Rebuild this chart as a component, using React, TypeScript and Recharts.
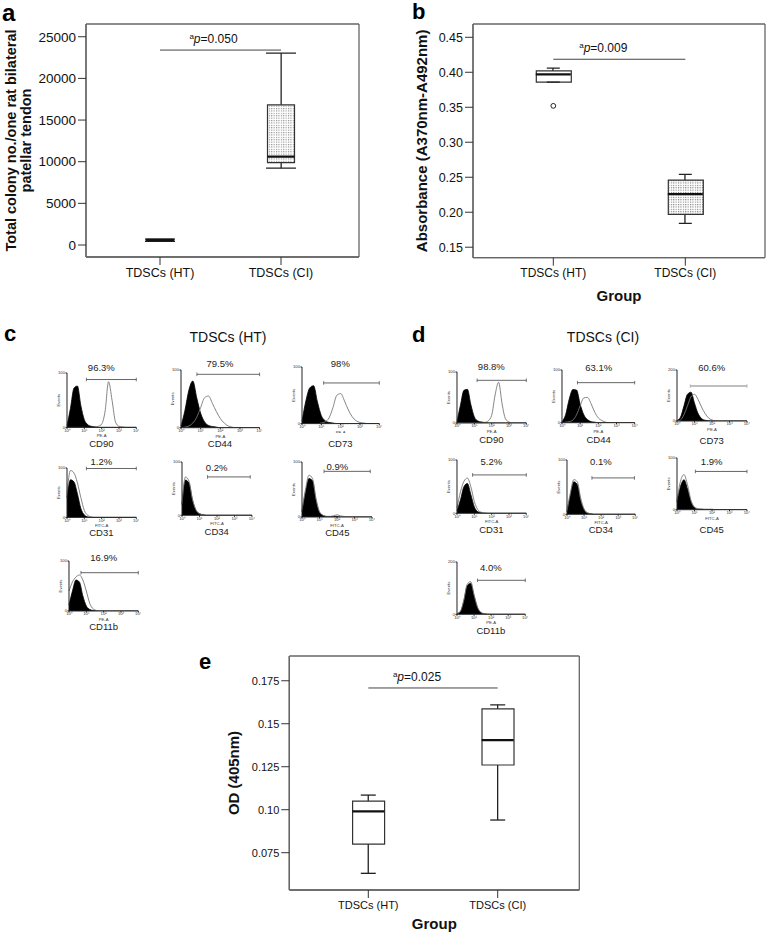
import React from "react";
import {
  AreaChart,
  Area,
  Bar,
  Cell,
  CartesianGrid,
  ComposedChart,
  ReferenceLine,
  Scatter,
  XAxis,
  YAxis,
} from "recharts";

const FONT = '"Liberation Sans", Arial, Helvetica, sans-serif';

// ---------- box plots ----------
const groups = ["TDSCs (HT)", "TDSCs (CI)"];

// (a) total colony number
const colonyMin = [450, 9220];
const colonyQ1 = [450, 9890];
const colonyMedian = [580, 10610];
const colonyQ3 = [700, 16830];
const colonyMax = [700, 23040];
const colonyTicks = [0, 5000, 10000, 15000, 20000, 25000];

// (b) absorbance
const absMin = [0.386, 0.184];
const absQ1 = [0.386, 0.197];
const absMedian = [0.397, 0.226];
const absQ3 = [0.402, 0.246];
const absMax = [0.406, 0.254];
const absOutlier = [0.352, null]; // HT only
const absTicks = [0.15, 0.2, 0.25, 0.3, 0.35, 0.4, 0.45];

// (e) OD 405nm
const odMin = [0.063, 0.094];
const odQ1 = [0.08, 0.126];
const odMedian = [0.099, 0.1405];
const odQ3 = [0.105, 0.1587];
const odMax = [0.1085, 0.161];
const odTicks = [0.075, 0.1, 0.125, 0.15, 0.175];
const odTickLabels = ["0.075", "0.10", "0.125", "0.15", "0.175"];

// significance
const sigLevels = [23400, 0.4186, 0.1708];
const pValues = ["0.050", "0.009", "0.025"];

// ---------- flow cytometry histograms ----------
const bins = [0, 0.2, 0.4, 0.6, 0.8, 1, 1.2, 1.4, 1.6, 1.8, 2, 2.2, 2.4, 2.6, 2.8, 3, 3.2, 3.4, 3.6, 3.8, 4];
const decades = [0, 1, 2, 3, 4];
const decadeLabels = ["10\u2070", "10\u00b9", "10\u00b2", "10\u00b3", "10\u2074"];

const markers = ["CD90", "CD44", "CD73", "CD31", "CD34", "CD45", "CD11b"];
const channels = ["PE-A", "PE-A", "PE-A", "FITC-A", "FITC-A", "FITC-A", "PE-A"];

const htPercent = ["96.3%", "79.5%", "98%", "1.2%", "0.2%", "0.9%", "16.9%"];
const ciPercent = ["98.8%", "63.1%", "60.6%", "5.2%", "0.1%", "1.9%", "4.0%"];
const htEventsMax = [100, 100, 100, 100, 100, 100, 100];
const ciEventsMax = [100, 100, 200, 100, 100, 100, 200];
const htGateFrom = [1.12, 0.81, 1.12, 1.12, 1.46, 1.26, 0.69];
const htGateTo = [4, 4, 4, 4, 3.9, 3.9, 4];
const htGateLevel = [88, 92.5, 71.8, 99, 72, 83, 76.6];
const ciGateFrom = [1.16, 0.85, 0.76, 0.9, 1.46, 1.05, 1.2];
const ciGateTo = [4, 4, 4, 4, 3.95, 4, 4];
const ciGateLevel = [83.7, 76, 137, 72, 67, 74, 130];

// isotype control (filled) and stained sample (outline), HT
const htCD90Ctl = [3, 35, 72, 76, 40, 14, 5, 2, 1, 0, 0, 0, 0, 0, 0, 0, 0, 0, 0, 0, 0];
const htCD90Smp = [0, 0, 0, 0, 0, 0, 0, 0, 1, 2, 6, 30, 84, 50, 10, 2, 1, 0, 0, 0, 0];
const htCD44Ctl = [3, 30, 65, 81, 52, 25, 10, 4, 2, 1, 0, 0, 0, 0, 0, 0, 0, 0, 0, 0, 0];
const htCD44Smp = [0, 1, 3, 8, 18, 35, 52, 55, 42, 28, 16, 8, 3, 1, 0, 0, 0, 0, 0, 0, 0];
const htCD73Ctl = [4, 40, 63, 67, 38, 14, 5, 2, 1, 0, 0, 0, 0, 0, 0, 0, 0, 0, 0, 0, 0];
const htCD73Smp = [0, 0, 0, 0, 0, 1, 3, 10, 28, 50, 53, 40, 24, 12, 5, 2, 1, 0, 0, 0, 0];
const htCD31Ctl = [40, 76, 72, 48, 18, 5, 1, 0, 0, 0, 0, 0, 0, 0, 0, 0, 0, 0, 0, 0, 0];
const htCD31Smp = [48, 95, 90, 70, 40, 14, 4, 1, 0, 0, 0, 0, 0, 0, 0, 0, 0, 0, 0, 0, 0];
const htCD34Ctl = [20, 66, 60, 28, 9, 3, 1, 0, 0, 0, 0, 0, 0, 0, 0, 0, 0, 0, 0, 0, 0];
const htCD34Smp = [22, 72, 64, 30, 10, 3, 1, 0, 0, 0, 0, 0, 0, 0, 0, 0, 0, 0, 0, 0, 0];
const htCD45Ctl = [10, 45, 70, 66, 30, 8, 3, 1, 1, 1, 1, 0, 0, 0, 0, 0, 0, 0, 0, 0, 0];
const htCD45Smp = [12, 50, 76, 70, 34, 10, 3, 1, 1, 2, 4, 2, 1, 0, 0, 0, 0, 0, 0, 0, 0];
const htCD11bCtl = [12, 40, 62, 58, 30, 10, 3, 1, 0, 0, 0, 0, 0, 0, 0, 0, 0, 0, 0, 0, 0];
const htCD11bSmp = [40, 58, 68, 72, 62, 40, 15, 4, 1, 0, 0, 0, 0, 0, 0, 0, 0, 0, 0, 0, 0];

// CI
const ciCD90Ctl = [3, 35, 64, 66, 36, 12, 4, 2, 1, 0, 0, 0, 0, 0, 0, 0, 0, 0, 0, 0, 0];
const ciCD90Smp = [0, 0, 0, 0, 0, 0, 0, 0, 1, 4, 15, 55, 80, 38, 8, 2, 0, 0, 0, 0, 0];
const ciCD44Ctl = [2, 15, 45, 63, 62, 35, 15, 6, 2, 1, 0, 0, 0, 0, 0, 0, 0, 0, 0, 0, 0];
const ciCD44Smp = [0, 1, 2, 5, 15, 32, 47, 48, 36, 20, 9, 4, 1, 0, 0, 0, 0, 0, 0, 0, 0];
const ciCD73Ctl = [2, 15, 60, 105, 113, 70, 30, 10, 3, 1, 0, 0, 0, 0, 0, 0, 0, 0, 0, 0, 0];
const ciCD73Smp = [0, 4, 25, 60, 95, 105, 85, 55, 30, 12, 4, 1, 0, 0, 0, 0, 0, 0, 0, 0, 0];
const ciCD31Ctl = [5, 25, 50, 56, 35, 12, 3, 1, 0, 0, 0, 0, 0, 0, 0, 0, 0, 0, 0, 0, 0];
const ciCD31Smp = [10, 40, 60, 66, 50, 22, 7, 2, 1, 0, 0, 0, 0, 0, 0, 0, 0, 0, 0, 0, 0];
const ciCD34Ctl = [5, 35, 60, 55, 25, 8, 2, 1, 0, 0, 0, 0, 0, 0, 0, 0, 0, 0, 0, 0, 0];
const ciCD34Smp = [6, 40, 64, 60, 30, 10, 3, 1, 0, 0, 0, 0, 0, 0, 0, 0, 0, 0, 0, 0, 0];
const ciCD45Ctl = [15, 45, 58, 40, 15, 4, 1, 1, 0, 0, 0, 0, 0, 0, 0, 0, 0, 0, 0, 0, 0];
const ciCD45Smp = [18, 55, 68, 48, 18, 5, 2, 1, 1, 1, 1, 0, 0, 0, 0, 0, 0, 0, 0, 0, 0];
const ciCD11bCtl = [2, 10, 50, 110, 118, 70, 25, 6, 2, 0, 0, 0, 0, 0, 0, 0, 0, 0, 0, 0, 0];
const ciCD11bSmp = [3, 12, 55, 115, 125, 75, 28, 8, 2, 1, 0, 0, 0, 0, 0, 0, 0, 0, 0, 0, 0];

const htControl = [htCD90Ctl, htCD44Ctl, htCD73Ctl, htCD31Ctl, htCD34Ctl, htCD45Ctl, htCD11bCtl];
const htSample = [htCD90Smp, htCD44Smp, htCD73Smp, htCD31Smp, htCD34Smp, htCD45Smp, htCD11bSmp];
const ciControl = [ciCD90Ctl, ciCD44Ctl, ciCD73Ctl, ciCD31Ctl, ciCD34Ctl, ciCD45Ctl, ciCD11bCtl];
const ciSample = [ciCD90Smp, ciCD44Smp, ciCD73Smp, ciCD31Smp, ciCD34Smp, ciCD45Smp, ciCD11bSmp];

// plot-area placement of each small histogram (page px)
const htLayout = [
  { x: 66.7, y: 373.3, w: 69.3, h: 54.4, pctY: 368.3, nameY: 444 },
  { x: 180.7, y: 370, w: 78.6, h: 57.7, pctY: 364.3, nameY: 444 },
  { x: 301.7, y: 366.7, w: 77.3, h: 56.6, pctY: 364, nameY: 444 },
  { x: 66.7, y: 468.3, w: 69.3, h: 49.4, pctY: 461.7, nameY: 533 },
  { x: 181.7, y: 461.7, w: 70, h: 53.3, pctY: 467.7, nameY: 532 },
  { x: 302.3, y: 461.7, w: 70, h: 55, pctY: 466.7, nameY: 532.5 },
  { x: 69, y: 561, w: 69.3, h: 50, pctY: 557.7, nameY: 627 },
];
const ciLayout = [
  { x: 456.7, y: 371.7, w: 69.3, h: 51, pctY: 367.3, nameY: 440 },
  { x: 562.3, y: 370, w: 72.7, h: 52.7, pctY: 368, nameY: 440 },
  { x: 676.7, y: 370, w: 70, h: 51, pctY: 368, nameY: 441 },
  { x: 456.7, y: 460, w: 69.3, h: 53.3, pctY: 461.7, nameY: 530 },
  { x: 566.7, y: 460, w: 68.3, h: 54.3, pctY: 461.7, nameY: 530 },
  { x: 676.7, y: 458.3, w: 70, h: 51.7, pctY: 461.7, nameY: 530 },
  { x: 456.7, y: 561.7, w: 68.3, h: 52.3, pctY: 568.3, nameY: 630.5 },
];

// ---------- components ----------
const frameH = (p: any) => [p.offset.top, p.offset.top + p.offset.height];
const frameV = (p: any) => [p.offset.left, p.offset.left + p.offset.width];

const capShape = (w: number) => (p: any) =>
  p.cx == null ? <g /> : (
    <line x1={p.cx - w / 2} x2={p.cx + w / 2} y1={p.cy} y2={p.cy} stroke="#222" strokeWidth={1.3} />
  );

const medianShape = (w: number) => (p: any) =>
  p.cx == null ? <g /> : (
    <line x1={p.cx - w / 2} x2={p.cx + w / 2} y1={p.cy} y2={p.cy} stroke="#111" strokeWidth={2.2} />
  );

const outlierShape = (p: any) =>
  p.cx == null || !p.payload || p.payload.outlier == null ? (
    <g />
  ) : (
    <circle cx={p.cx} cy={p.cy} r={2.4} fill="#fff" stroke="#222" strokeWidth={1} />
  );

function BoxPanel(c: any) {
  const rows = groups.map((g, i) => ({
    g,
    whisker: [c.min[i], c.max[i]],
    box: [c.q1[i], c.q3[i]],
    median: c.median[i],
    low: c.min[i],
    high: c.max[i],
    outlier: c.outlier ? c.outlier[i] : null,
  }));
  const plotH = c.height - c.top - c.xHeight;
  const cy = c.top + plotH / 2;
  return (
    <div style={{ position: "absolute", left: c.left, top: c.pageTop }}>
      <ComposedChart
        width={c.width}
        height={c.height}
        data={rows}
        margin={{ top: c.top, right: c.right, left: 0, bottom: 0 }}
      >
        <defs>
          <pattern id={c.id + "dots"} width="2.4" height="2.4" patternUnits="userSpaceOnUse">
            <rect width="2.4" height="2.4" fill="#fff" />
            <rect width="1.1" height="1.1" fill={c.dotColor} />
          </pattern>
        </defs>
        <CartesianGrid
          stroke="#666"
          strokeWidth={1.3}
          horizontalCoordinatesGenerator={frameH}
          verticalCoordinatesGenerator={frameV}
        />
        <XAxis
          dataKey="g"
          padding={c.pad}
          height={c.xHeight}
          tickSize={8}
          tickMargin={3}
          interval={0}
          allowDuplicatedCategory={false}
          axisLine={{ stroke: "#666", strokeWidth: 1.3 }}
          tickLine={{ stroke: "#333" }}
          tick={{ fontSize: c.tickFont, fill: "#111" }}
          label={
            c.xLabel
              ? { value: c.xLabel, position: "insideBottom", offset: c.xLabelOffset, fontSize: 15, fontWeight: 700, fill: "#111" }
              : undefined
          }
        />
        <XAxis xAxisId="w" dataKey="g" padding={c.pad} allowDuplicatedCategory={false} hide />
        <YAxis
          type="number"
          domain={c.domain}
          allowDataOverflow
          ticks={c.ticks}
          interval={0}
          tickFormatter={c.fmt}
          width={c.yWidth}
          tickSize={8}
          tickMargin={2}
          axisLine={{ stroke: "#666", strokeWidth: 1.3 }}
          tickLine={{ stroke: "#333" }}
          tick={{ fontSize: c.yTickFont || c.tickFont, fill: "#111" }}
          label={() => (
            <g>
              {c.yLines.map((t: string, i: number) => (
                <text
                  key={t}
                  x={c.yLabelX[i]}
                  y={cy}
                  transform={`rotate(-90 ${c.yLabelX[i]} ${cy})`}
                  textAnchor="middle"
                  dominantBaseline="central"
                  fontSize={c.yLabelFont}
                  fontWeight={700}
                  fill="#111"
                >
                  {t}
                </text>
              ))}
            </g>
          )}
        />
        <Bar xAxisId="w" dataKey="whisker" barSize={1.3} fill="#222" isAnimationActive={false} />
        <Bar dataKey="box" barSize={c.boxW} stroke="#333" strokeWidth={1.2} isAnimationActive={false}>
          {rows.map((r, i) => (
            <Cell key={r.g} fill={c.fills[i] === "dots" ? `url(#${c.id}dots)` : c.fills[i]} />
          ))}
        </Bar>
        <Scatter dataKey="high" shape={capShape(c.capW)} isAnimationActive={false} />
        <Scatter dataKey="low" shape={capShape(c.capW)} isAnimationActive={false} />
        <Scatter dataKey="median" shape={medianShape(c.boxW)} isAnimationActive={false} />
        {c.outlier ? <Scatter dataKey="outlier" shape={outlierShape} isAnimationActive={false} /> : null}
        <ReferenceLine
          segment={[
            { x: groups[0], y: c.sig },
            { x: groups[1], y: c.sig },
          ]}
          stroke="#444"
          strokeWidth={1}
          label={(p: any) => {
            const vb = p.viewBox || { x: 0, y: 0, width: 0 };
            return (
              <text x={vb.x + vb.width / 2 + c.pDx} y={vb.y - 7} textAnchor="middle" fontSize={12} fill="#111">
                <tspan fontSize={8} dy={-4}>a</tspan>
                <tspan fontStyle="italic" dy={4}>p</tspan>
                <tspan>{"=" + c.p}</tspan>
              </text>
            );
          }}
        />
      </ComposedChart>
    </div>
  );
}

const HML = 13;
const HMR = 3;
const HMT = 3;
const HMB = 10;

const GateShape = (p: any) => {
  if (p.x1 == null) return <g />;
  return (
    <g>
      <line x1={p.x1} y1={p.y1} x2={p.x2} y2={p.y2} stroke={p.stroke} strokeWidth={p.strokeWidth} />
      <line x1={p.x1} y1={p.y1 - 1.8} x2={p.x1} y2={p.y1 + 1.8} stroke={p.stroke} strokeWidth={0.8} />
      <line x1={p.x2} y1={p.y2 - 1.8} x2={p.x2} y2={p.y2 + 1.8} stroke={p.stroke} strokeWidth={0.8} />
    </g>
  );
};

function Histogram(h: any) {
  const rows = bins.map((b, i) => ({ x: b, ctl: h.control[i], smp: h.sample[i] }));
  const box = h.box;
  const labelStyle: React.CSSProperties = {
    position: "absolute",
    left: box.x - 20,
    width: box.w + 40,
    textAlign: "center",
    fontSize: 9.5,
    lineHeight: "10px",
    color: "#222",
    whiteSpace: "nowrap",
  };
  return (
    <>
      <div style={{ ...labelStyle, top: box.pctY - 5 }}>{h.pct}</div>
      <div style={{ position: "absolute", left: box.x - HML, top: box.y - HMT }}>
        <AreaChart
          width={box.w + HML + HMR}
          height={box.h + HMT + HMB}
          data={rows}
          margin={{ top: HMT, right: HMR, bottom: 0, left: 0 }}
        >
          <XAxis
            type="number"
            dataKey="x"
            domain={[0, 4]}
            ticks={decades}
            interval={0}
            tickFormatter={(v: number) => decadeLabels[v]}
            height={HMB}
            tickSize={1.5}
            tickMargin={0}
            stroke="#222"
            tick={{ fontSize: 4.2, fill: "#333" }}
            label={{ value: h.channel, position: "insideBottom", offset: 0, fontSize: 4.2, fill: "#333" }}
          />
          <YAxis
            type="number"
            domain={[0, h.ymax]}
            allowDataOverflow
            ticks={[0, h.ymax]}
            interval={0}
            width={HML}
            tickSize={1.5}
            tickMargin={0.5}
            stroke="#222"
            tick={{ fontSize: 4.2, fill: "#333" }}
            label={{
              value: "Events",
              angle: -90,
              position: "insideLeft",
              offset: 5,
              fontSize: 4.2,
              fill: "#333",
              style: { textAnchor: "middle" },
            }}
          />
          <Area
            type="monotone"
            dataKey="ctl"
            stroke="#000"
            strokeWidth={0.8}
            fill="#000"
            fillOpacity={1}
            dot={false}
            isAnimationActive={false}
          />
          <Area
            type="monotone"
            dataKey="smp"
            stroke="#777"
            strokeWidth={0.9}
            fill="none"
            dot={false}
            isAnimationActive={false}
          />
          <ReferenceLine
            segment={[
              { x: h.gate[0], y: h.gate[2] },
              { x: h.gate[1], y: h.gate[2] },
            ]}
            stroke={h.gateColor}
            strokeWidth={h.gateWidth}
            ifOverflow="visible"
            shape={GateShape}
          />
        </AreaChart>
      </div>
      <div style={{ ...labelStyle, top: box.nameY - 5 }}>{h.name}</div>
    </>
  );
}

const letterStyle = (left: number, top: number, size: number): React.CSSProperties => ({
  position: "absolute",
  left,
  top,
  fontSize: size,
  fontWeight: 700,
  lineHeight: `${size}px`,
  color: "#000",
});

export default function App() {
  return (
    <div
      style={{
        position: "absolute",
        left: 0,
        top: 0,
        width: 767,
        height: 932,
        background: "#fff",
        fontFamily: FONT,
        color: "#111",
        overflow: "hidden",
      }}
    >
      <BoxPanel
        id="a"
        left={0}
        pageTop={0}
        width={367}
        height={290}
        top={24}
        right={8}
        yWidth={86}
        xHeight={33}
        pad={{ left: 13.5, right: 17.5 }}
        domain={[-1440, 26530]}
        ticks={colonyTicks}
        fmt={(v: number) => String(v)}
        min={colonyMin}
        q1={colonyQ1}
        median={colonyMedian}
        q3={colonyQ3}
        max={colonyMax}
        boxW={27}
        capW={30}
        fills={["#111", "dots"]}
        dotColor="#8a8a8a"
        tickFont={12.5}
        yTickFont={13.5}
        yLines={["Total colony no./one rat bilateral", "patellar tendon"]}
        yLabelX={[11, 26]}
        yLabelFont={14.5}
        sig={sigLevels[0]}
        p={pValues[0]}
        pDx={-7}
      />
      <BoxPanel
        id="b"
        left={390}
        pageTop={0}
        width={377}
        height={310}
        top={24}
        right={2}
        yWidth={83}
        xHeight={52.3}
        pad={{ left: 14.3, right: 13.7 }}
        domain={[0.135, 0.469]}
        ticks={absTicks}
        fmt={(v: number) => v.toFixed(2)}
        min={absMin}
        q1={absQ1}
        median={absMedian}
        q3={absQ3}
        max={absMax}
        outlier={absOutlier}
        boxW={35}
        capW={13}
        fills={["#fff", "dots"]}
        dotColor="#777"
        tickFont={12}
        yTickFont={12.5}
        yLines={["Absorbance (A370nm-A492nm)"]}
        yLabelX={[32]}
        yLabelFont={15}
        xLabel="Group"
        xLabelOffset={9}
        sig={sigLevels[1]}
        p={pValues[1]}
        pDx={-16}
      />
      <BoxPanel
        id="e"
        left={200}
        pageTop={640}
        width={390}
        height={292}
        top={16}
        right={10.7}
        yWidth={89.3}
        xHeight={42}
        pad={{ left: 14.3, right: 16.9 }}
        domain={[0.0533, 0.1894]}
        ticks={odTicks}
        fmt={(v: number) => odTickLabels[odTicks.indexOf(v)]}
        min={odMin}
        q1={odQ1}
        median={odMedian}
        q3={odQ3}
        max={odMax}
        boxW={32}
        capW={15}
        fills={["#fff", "#fff"]}
        dotColor="#777"
        tickFont={11}
        yLines={["OD (405nm)"]}
        yLabelX={[33.5]}
        yLabelFont={15}
        xLabel="Group"
        xLabelOffset={3}
        sig={sigLevels[2]}
        p={pValues[2]}
        pDx={-16}
      />

      <div style={{ position: "absolute", left: 150, width: 156, top: 329, textAlign: "center", fontSize: 14, lineHeight: "16px" }}>
        TDSCs (HT)
      </div>
      <div style={{ position: "absolute", left: 525, width: 156, top: 329, textAlign: "center", fontSize: 14, lineHeight: "16px" }}>
        TDSCs (CI)
      </div>

      {markers.map((m, i) => (
        <Histogram
          key={"ht" + m}
          control={htControl[i]}
          sample={htSample[i]}
          ymax={htEventsMax[i]}
          gate={[htGateFrom[i], htGateTo[i], htGateLevel[i]]}
          gateColor="#555"
          gateWidth={0.9}
          pct={htPercent[i]}
          name={m}
          channel={channels[i]}
          box={htLayout[i]}
        />
      ))}
      {markers.map((m, i) => (
        <Histogram
          key={"ci" + m}
          control={ciControl[i]}
          sample={ciSample[i]}
          ymax={ciEventsMax[i]}
          gate={[ciGateFrom[i], ciGateTo[i], ciGateLevel[i]]}
          gateColor={i === 2 ? "#aaa" : "#555"}
          gateWidth={i === 2 ? 1.5 : 0.9}
          pct={ciPercent[i]}
          name={m}
          channel={channels[i]}
          box={ciLayout[i]}
        />
      ))}

      <div style={letterStyle(2, 1, 24)}>a</div>
      <div style={letterStyle(412, 1, 22)}>b</div>
      <div style={letterStyle(4, 323, 22)}>c</div>
      <div style={letterStyle(412, 324, 22)}>d</div>
      <div style={letterStyle(199, 651, 22)}>e</div>
    </div>
  );
}
